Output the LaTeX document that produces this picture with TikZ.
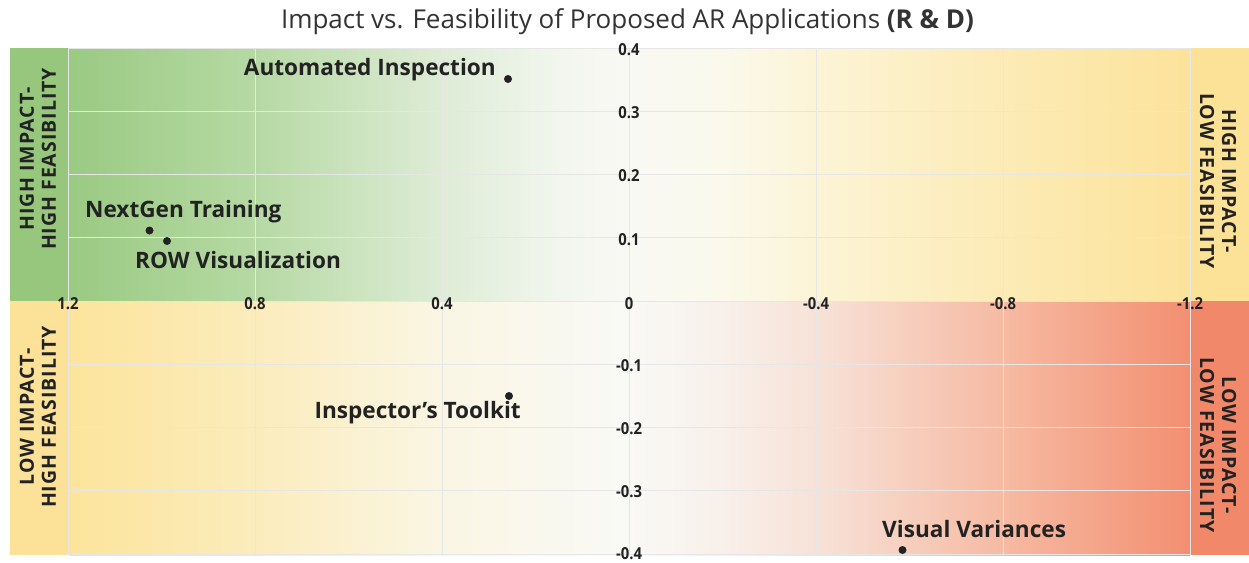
\documentclass[tikz,border=0pt]{standalone}
\usepackage{fontspec}
\setmainfont{Open Sans}
\newfontfamily\tickfont[FakeStretch=0.9]{Open Sans}
\newfontfamily\quadfont[LetterSpace=5]{Open Sans}
\definecolor{stripgreen}{RGB}{150,199,124}
\definecolor{stripyellowL}{RGB}{252,226,152}
\definecolor{stripyellowR}{RGB}{252,226,150}
\definecolor{stripred}{RGB}{242,136,106}
\definecolor{gridc}{RGB}{230,230,230}
\definecolor{ink}{RGB}{34,34,34}
\definecolor{titleink}{RGB}{51,51,51}
% top half stops
\definecolor{ta}{RGB}{154,202,130}
\definecolor{tb}{RGB}{182,217,164}
\definecolor{tc}{RGB}{222,236,214}
\definecolor{td}{RGB}{242,246,238}
\definecolor{te}{RGB}{249,249,244}
\definecolor{tf}{RGB}{250,249,236}
\definecolor{tg}{RGB}{252,244,214}
\definecolor{th}{RGB}{252,235,182}
\definecolor{ti}{RGB}{252,227,155}
% bottom half stops
\definecolor{ba}{RGB}{252,228,155}
\definecolor{bb}{RGB}{251,236,188}
\definecolor{bc}{RGB}{250,246,228}
\definecolor{bd}{RGB}{249,249,246}
\definecolor{be}{RGB}{248,240,234}
\definecolor{bf}{RGB}{247,226,216}
\definecolor{bg}{RGB}{246,186,162}
\definecolor{bh}{RGB}{243,143,113}
\pgfdeclarehorizontalshading{topgrad}{253pt}{color(0pt)=(ta); color(187pt)=(tb); color(374pt)=(tc); color(492pt)=(td); color(561pt)=(te); color(652pt)=(tf); color(748pt)=(tg); color(935pt)=(th); color(1122pt)=(ti)}
\pgfdeclarehorizontalshading{botgrad}{254pt}{color(0pt)=(ba); color(187pt)=(bb); color(374pt)=(bc); color(561pt)=(bd); color(652pt)=(be); color(748pt)=(bf); color(935pt)=(bg); color(1122pt)=(bh)}
\tikzset{
  gridline/.style={draw=gridc, line width=1pt},
  tick/.style={font=\tickfont\bfseries\fontsize{16.5}{16.5}\selectfont, text=ink, inner sep=0pt},
  ptlabel/.style={font=\bfseries\fontsize{22.6}{22.6}\selectfont, text=ink, inner sep=0pt},
  dot/.style={circle, fill=ink, inner sep=0pt, minimum size=8pt},
  quad/.style={font=\quadfont\bfseries\fontsize{19.5}{22}\selectfont, text=ink, align=center, inner sep=0pt},
}
\begin{document}
\begin{tikzpicture}[x=1pt,y=-1pt]
\useasboundingbox (0,0) rectangle (1249,562);
\fill[white] (0,0) rectangle (1249,562);
% title
\node[font=\fontsize{26}{26}\selectfont, text=titleink, anchor=base, inner sep=0pt] (title) at (627.5,28.3) {Impact vs. Feasibility of Proposed AR Applications \textbf{(R \& D)}};
% background gradients
\node[inner sep=0pt, anchor=north west] (topbg) at (68,48) {\pgfuseshading{topgrad}};
\node[inner sep=0pt, anchor=north west] (botbg) at (68,301) {\pgfuseshading{botgrad}};
% side strips
\fill[stripgreen] (10,48) rectangle (68,301);
\fill[stripyellowL] (10,301) rectangle (68,555);
\fill[stripyellowR] (1190,48) rectangle (1249,301);
\fill[stripred] (1190,301) rectangle (1249,555);
% grid
\foreach \gx in {68,255,442,629,816,1003,1190}
  \draw[gridline] (\gx,48) -- (\gx,555);
\foreach \gy in {48,111.25,174.5,237.75,301,364.25,427.5,490.75,554.5}
  \draw[gridline] (68,\gy) -- (1190,\gy);
% y ticks
\foreach \ty/\tl in {50/0.4,113/0.3,176/0.2,240/0.1,366/-0.1,429/-0.2,492/-0.3,554/-0.4}
  \node[tick] at (629,\ty) {\tl};
% x ticks
\foreach \tx/\tl in {68/1.2,255/0.8,442/0.4,629/0,816/-0.4,1003/-0.8,1190/-1.2}
  \node[tick] at (\tx,304) {\tl};
% quadrant labels
\node[quad, rotate=90] (qHH) at (38,159) {HIGH IMPACT-\\HIGH FEASIBILITY};
\node[quad, rotate=90] (qLH) at (38,417) {LOW IMPACT-\\HIGH FEASIBILITY};
\node[quad, rotate=-90] (qHL) at (1218,181) {HIGH IMPACT-\\LOW FEASIBILITY};
\node[quad, rotate=-90] (qLL) at (1218,445) {LOW IMPACT-\\LOW FEASIBILITY};
% points
\node[dot] (pAI) at (508,79) {};
\node[ptlabel, anchor=base east] (lAI) at (496,75) {Automated Inspection};
\node[dot] (pNG) at (149.5,230.5) {};
\node[ptlabel, anchor=base west] (lNG) at (85,217) {NextGen Training};
\node[dot] (pROW) at (167,241) {};
\node[ptlabel, anchor=base west] (lROW) at (135,268) {ROW Visualization};
\node[dot] (pIT) at (509,396) {};
\node[ptlabel, anchor=base east] (lIT) at (521,418.5) {Inspector’s Toolkit};
\node[dot] (pVV) at (902.5,550) {};
\node[ptlabel, anchor=base west] (lVV) at (882,537) {Visual Variances};
\end{tikzpicture}
\end{document}
